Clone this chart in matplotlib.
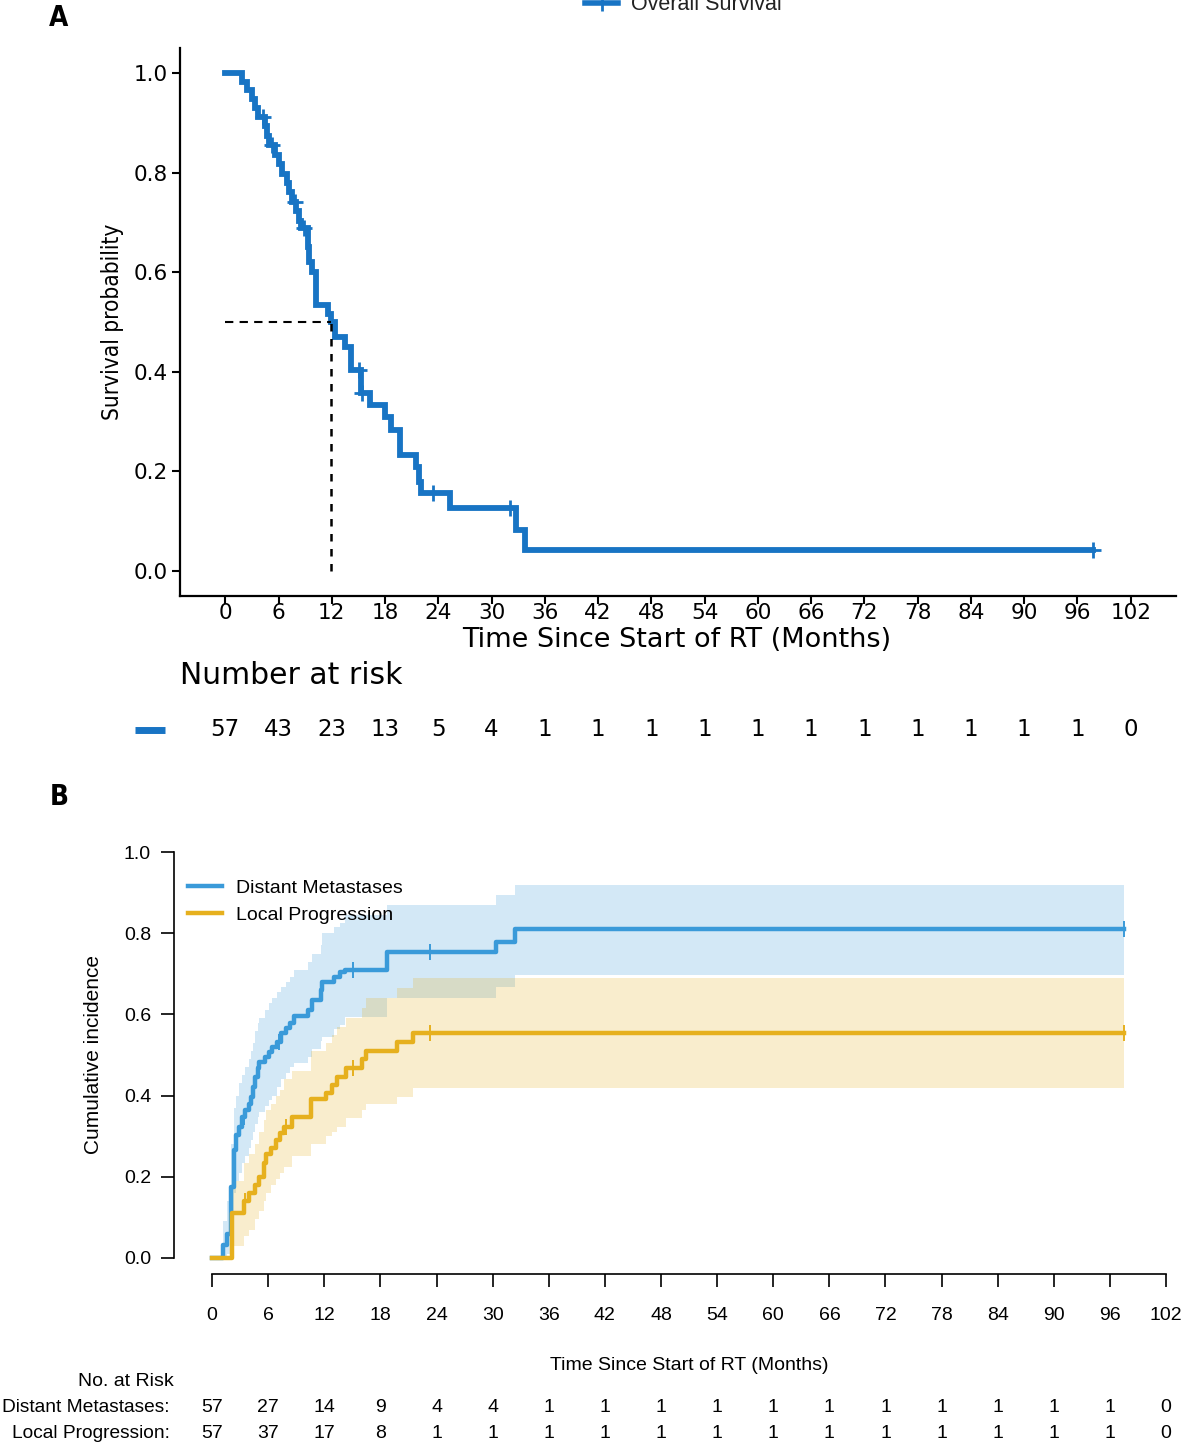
import numpy as np
import matplotlib
matplotlib.use("Agg")
import matplotlib.pyplot as plt
from matplotlib import font_manager
from matplotlib.lines import Line2D
from matplotlib.transforms import blended_transform_factory

# ---- panel A: overall survival (Kaplan-Meier steps)
os_time = [0, 1.9, 2.5, 3.0, 3.4, 3.7, 4.5, 4.7, 4.9, 5.6, 6.0, 6.4, 7.0, 7.2, 7.5,
           8.0, 8.3, 8.5, 9.3, 9.4, 9.8, 10.2, 11.6, 11.9, 12.4, 13.5, 14.2, 15.3,
           16.3, 18.0, 18.7, 19.7, 21.5, 21.8, 22.1, 25.3, 32.8, 33.8]
os_surv = [1.0, 0.982, 0.965, 0.947, 0.930, 0.912, 0.893, 0.874, 0.855, 0.836, 0.817,
           0.798, 0.779, 0.760, 0.741, 0.722, 0.703, 0.688, 0.650, 0.621, 0.600, 0.535,
           0.517, 0.500, 0.470, 0.450, 0.404, 0.357, 0.333, 0.310, 0.283, 0.233, 0.208,
           0.179, 0.156, 0.126, 0.082, 0.042]
os_end = 97.7
os_censor = [4.2, 5.3, 7.8, 8.9, 15.1, 15.4, 23.4, 32.1, 97.7]

risk_times = list(range(0, 103, 6))
os_risk = [57, 43, 23, 13, 5, 4, 1, 1, 1, 1, 1, 1, 1, 1, 1, 1, 1, 0]

# ---- panel B: cumulative incidence with confidence bands
dm_t = [0, 1.2, 1.6, 2.0, 2.3, 2.6, 2.9, 3.2, 3.5, 3.9, 4.2, 4.4, 4.6, 4.9, 5.0, 5.6,
        6.1, 6.4, 6.9, 7.4, 7.9, 8.3, 8.8, 10.3, 10.7, 11.6, 11.7, 13.0, 13.7, 14.2,
        18.7, 30.3, 32.4]
dm_ci = [0, .032, .06, .176, .266, .303, .323, .348, .365, .38, .397, .422, .447, .467,
         .483, .496, .508, .52, .533, .553, .566, .578, .595, .611, .635, .66, .68, .693,
         .705, .71, .754, .779, .81]
dm_lo = [0, .005, .01, .09, .16, .19, .21, .233, .25, .27, .29, .31, .33, .348, .36,
         .375, .39, .40, .42, .44, .455, .47, .48, .496, .515, .535, .545, .565, .575,
         .594, .64, .668, .697]
dm_hi = [0, .09, .14, .28, .37, .40, .43, .45, .47, .49, .51, .53, .56, .58, .59, .61,
         .628, .64, .655, .668, .68, .693, .71, .73, .75, .77, .80, .815, .825, .845,
         .869, .894, .919]
dm_censor = [3.4, 7.2, 15.1, 23.3, 97.5]

lp_t = [0, 2.1, 3.4, 3.9, 4.6, 5.0, 5.5, 5.8, 6.3, 6.8, 7.3, 7.7, 8.5, 10.6, 12.2,
        12.8, 13.3, 14.3, 16.0, 16.5, 19.8, 21.5]
lp_ci = [0, .11, .14, .16, .18, .20, .233, .256, .27, .29, .307, .323, .348, .391,
         .407, .425, .447, .467, .49, .51, .532, .553]
lp_lo = [0, .03, .055, .07, .095, .115, .14, .16, .18, .195, .209, .225, .25, .28,
         .30, .31, .323, .345, .365, .38, .397, .418]
lp_hi = [0, .19, .235, .255, .28, .31, .34, .365, .38, .40, .415, .44, .46, .51, .53,
         .55, .57, .59, .615, .64, .665, .689]
lp_censor = [3.5, 7.9, 15.1, 23.3, 97.5]
cif_end = 97.5

dm_risk = [57, 27, 14, 9, 4, 4, 1, 1, 1, 1, 1, 1, 1, 1, 1, 1, 1, 0]
lp_risk = [57, 37, 17, 8, 1, 1, 1, 1, 1, 1, 1, 1, 1, 1, 1, 1, 1, 0]

os_col = "#1874c4"
dm_col = "#3a9ad9"
lp_col = "#e6b01e"

W, H = 1181, 1446
fig = plt.figure(figsize=(W / 100, H / 100), dpi=100)
arial = ["Liberation Sans", "DejaVu Sans"]

# a narrow face for the tall-looking labels, if one is installed
narrow = None
for f in font_manager.fontManager.ttflist:
    if "Narrow" in f.name or "Condensed" in f.name or f.stretch in ("condensed", "semi-condensed"):
        narrow = f
        break
if narrow is not None:
    narrow_fp = dict(family=narrow.name, stretch=narrow.stretch)
else:
    narrow_fp = dict(family="Liberation Sans")


def step_value(times, vals, at):
    idx = np.searchsorted(times, at, side="right") - 1
    return np.asarray(vals)[idx]


# ================= panel A =================
ax1 = fig.add_axes([180 / W, 1 - 596 / H, 996 / W, 548 / H])
x = np.append(os_time, os_end)
y = np.append(os_surv, os_surv[-1])
ax1.step(x, y, where="post", color=os_col, lw=4.2, solid_joinstyle="miter")
ax1.plot(os_censor, step_value(os_time, os_surv, os_censor), ls="none", marker="+",
         ms=11, mew=2, color=os_col)

med = os_time[int(np.argmax(np.asarray(os_surv) <= 0.5))]
ax1.plot([0, med], [0.5, 0.5], ls=(0, (4, 3)), color="black", lw=1.5)
ax1.plot([med, med], [0, 0.5], ls=(0, (3, 3)), color="black", lw=1.8)

ax1.set_xlim(-5.1, 107.1)
ax1.set_ylim(-0.05, 1.05)
ax1.set_xticks(risk_times)
ax1.set_yticks(np.arange(0, 1.01, 0.2))
ax1.set_yticklabels([f"{v:.1f}" for v in np.arange(0, 1.01, 0.2)])
for s in ["top", "right"]:
    ax1.spines[s].set_visible(False)
for s in ["left", "bottom"]:
    ax1.spines[s].set_linewidth(1.6)
ax1.tick_params(length=6, width=1.5, labelsize=15.5)
ax1.tick_params(axis="x", pad=-1)
ax1.tick_params(axis="y", pad=3)
for lab in ax1.get_xticklabels() + ax1.get_yticklabels():
    lab.set_family("DejaVu Sans")
ax1.set_xlabel("Time Since Start of RT (Months)", fontsize=19.5, family="DejaVu Sans",
               va="center")
ax1.xaxis.set_label_coords(0.499, (596 - 640) / 548)
ylab = ax1.set_ylabel("Survival probability", fontsize=20, va="center", ha="center",
                      **narrow_fp)
ax1.yaxis.set_label_coords((112 - 180) / 996, 0.5)

fig.text(59 / W, 1 - 18 / H, "A", fontsize=20, fontweight="bold", ha="center",
         va="center", **narrow_fp)

# legend at the very top
leg1 = fig.legend(handles=[Line2D([], [], color=os_col, lw=4, marker="+", ms=11, mew=2)],
                  labels=["Overall Survival"], loc="center left",
                  bbox_to_anchor=(585 / W, 1 - 5 / H), frameon=False,
                  prop={"family": arial, "size": 15.5},
                  handlelength=1.55, handletextpad=0.6, borderpad=0, borderaxespad=0)
for t in leg1.get_texts():
    t.set_color("#222222")

# number at risk (panel A)
trA = blended_transform_factory(ax1.transData, fig.transFigure)
fig.text(180 / W, 1 - 675 / H, "Number at risk", fontsize=21.5, family="DejaVu Sans",
         ha="left", va="center")
for tt, n in zip(risk_times, os_risk):
    ax1.text(tt, 1 - 730 / H, str(n), transform=trA, ha="center", va="center",
             fontsize=16.5, family="DejaVu Sans", clip_on=False)
fig.add_artist(Line2D([135 / W, 165 / W], [1 - 730 / H, 1 - 730 / H], color=os_col, lw=5,
                      solid_capstyle="butt"))

# ================= panel B =================
ax2 = fig.add_axes([174 / W, 1 - 1274.2 / H, 1030.2 / W, 438.4 / H])
for tt, lo, hi, col in [(dm_t, dm_lo, dm_hi, dm_col), (lp_t, lp_lo, lp_hi, lp_col)]:
    bx = np.append(tt, cif_end)
    ax2.fill_between(bx, np.append(lo, lo[-1]), np.append(hi, hi[-1]), step="post",
                     color=col, alpha=0.22, lw=0)
for tt, ci, cens, col, name in [(dm_t, dm_ci, dm_censor, dm_col, "Distant Metastases"),
                                (lp_t, lp_ci, lp_censor, lp_col, "Local Progression")]:
    ax2.step(np.append(tt, cif_end), np.append(ci, ci[-1]), where="post", color=col,
             lw=3.2, label=name)
    ax2.plot(cens, step_value(tt, ci, cens), ls="none", marker="|", ms=12, mew=1.4,
             color=col)

ax2.set_xlim(-4.08, 106.08)
ax2.set_ylim(-0.04, 1.04)
ax2.set_xticks(risk_times)
ax2.set_yticks(np.arange(0, 1.01, 0.2))
ax2.set_yticklabels([f"{v:.1f}" for v in np.arange(0, 1.01, 0.2)])
for s in ["top", "right"]:
    ax2.spines[s].set_visible(False)
ax2.spines["left"].set_bounds(0, 1)
ax2.spines["bottom"].set_bounds(0, 102)
for s in ["left", "bottom"]:
    ax2.spines[s].set_linewidth(1.2)
ax2.tick_params(axis="x", length=9.5, width=1.2, labelsize=14, pad=14)
ax2.tick_params(axis="y", length=9.5, width=1.2, labelsize=14, pad=7)
for lab in ax2.get_xticklabels() + ax2.get_yticklabels():
    lab.set_family(arial)
ax2.set_xlabel("Time Since Start of RT (Months)", fontsize=14, family=arial, va="center")
ax2.xaxis.set_label_coords(0.4999, (1274.2 - 1366) / 438.4)
ax2.set_ylabel("Cumulative incidence", fontsize=15, family=arial, va="center", ha="center")
ax2.yaxis.set_label_coords((93 - 174) / 1030.2, 0.5)

ax2.legend(loc="upper left", bbox_to_anchor=((188 - 174) / 1030.2, 1 - (879 - 835.8) / 438.4),
           frameon=False, prop={"family": arial, "size": 14}, handlelength=1.75,
           handletextpad=0.7, labelspacing=0.5, borderpad=0, borderaxespad=0)

fig.text(59 / W, 1 - 797 / H, "B", fontsize=20, fontweight="bold", ha="center",
         va="center", **narrow_fp)

trB = blended_transform_factory(ax2.transData, fig.transFigure)
fig.text(174 / W, 1 - 1381 / H, "No. at Risk", fontsize=14, family=arial, ha="right", va="center")
fig.text(170 / W, 1 - 1407 / H, "Distant Metastases:", fontsize=13.8, family=arial, ha="right", va="center")
fig.text(170 / W, 1 - 1433 / H, "Local Progression:", fontsize=13.8, family=arial, ha="right", va="center")
for tt, a, b in zip(risk_times, dm_risk, lp_risk):
    ax2.text(tt, 1 - 1407 / H, str(a), transform=trB, ha="center", va="center",
             fontsize=14, family=arial, clip_on=False)
    ax2.text(tt, 1 - 1433 / H, str(b), transform=trB, ha="center", va="center",
             fontsize=14, family=arial, clip_on=False)

# fit the rotated label of panel A to roughly the length it has in the reference
fig.canvas.draw()
ext = ylab.get_window_extent()
ylab.set_fontsize(20 * 196 / ext.height)

fig.savefig("out.png", dpi=100)
